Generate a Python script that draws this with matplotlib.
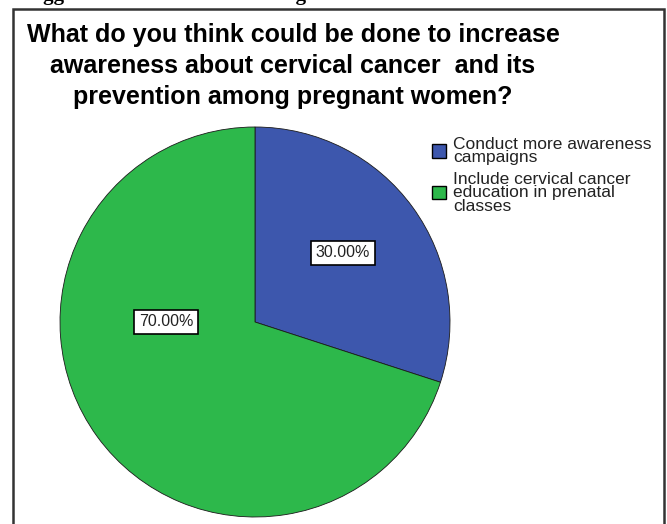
import matplotlib.pyplot as plt
from matplotlib.patches import Rectangle

# data
labels = ["Conduct more awareness\ncampaigns",
          "Include cervical cancer\neducation in prenatal\nclasses"]
shares = [30.0, 70.0]
colors = ["#3d57ad", "#2db84b"]
title = ("What do you think could be done to increase\n"
         "awareness about cervical cancer  and its\n"
         "prevention among pregnant women?")

plt.rcParams['font.family'] = ['Liberation Sans', 'DejaVu Sans']

fig = plt.figure(figsize=(6.67, 5.24), dpi=100)

# cut-off caption line above the frame
fig.text(20 / 667, 1.0, "Suggestions made for increasing awareness", family='Liberation Serif',
         fontweight='bold', fontsize=15, va='baseline', ha='left')

# outer frame
fig.patches.append(Rectangle((13 / 667, -0.1), 651 / 667, 1.1 - 9 / 524, transform=fig.transFigure,
                             fill=False, edgecolor='#333333', linewidth=1.8))

fig.text(293 / 667, 1 - 66 / 524, title, ha='center', va='center', fontsize=18,
         fontweight='bold', linespacing=1.38)

ax = fig.add_axes([60 / 667, 7 / 524, 390 / 667, 390 / 524])
wedges, _, autotexts = ax.pie(shares, colors=colors, startangle=90, counterclock=False,
                              autopct='%.2f%%', pctdistance=0.55,
                              wedgeprops=dict(edgecolor='#1a1a1a', linewidth=0.6))
ax.set_xlim(-1, 1)
ax.set_ylim(-1, 1)

# SPSS-like label spots
spots = [(0.45, 0.354), (-0.456, 0.0)]
for t, (x, y) in zip(autotexts, spots):
    t.set_position((x, y))
    t.set_ha('center')
    t.set_va('center')
    t.set_fontsize(11.5)
    t.set_color('#222222')
    t.set_bbox(dict(boxstyle='square,pad=0.3', facecolor='white', edgecolor='black', linewidth=1.2))

leg = fig.legend(wedges, labels, loc='upper left', bbox_to_anchor=(432 / 667, 1 - 137 / 524),
                 frameon=False, fontsize=12.5, handlelength=0.8, handleheight=0.8,
                 handletextpad=0.4, labelspacing=0.4, borderpad=0, borderaxespad=0)
for txt in leg.get_texts():
    txt.set_linespacing(0.85)
    txt.set_color('#222222')
for h in leg.legend_handles:
    h.set_edgecolor('black')
    h.set_linewidth(1.0)

plt.savefig("out.png", dpi=100)
